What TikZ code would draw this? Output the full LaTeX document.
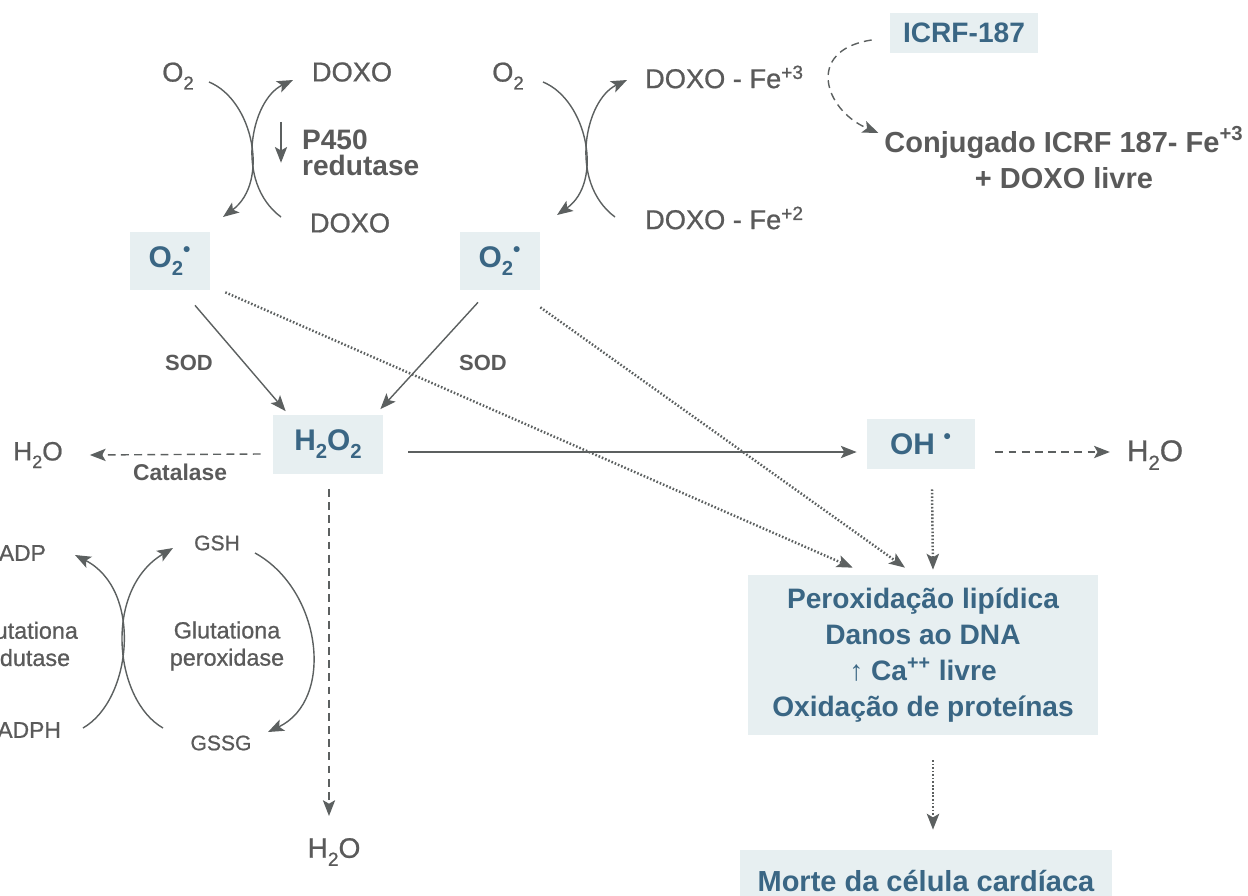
\documentclass[tikz,border=0pt]{standalone}
\usepackage{fontspec}
\setmainfont{Liberation Sans}
\newfontfamily\medfont[FakeBold=0.8]{Liberation Sans}
\usetikzlibrary{arrows.meta}

\definecolor{inkgray}{RGB}{90,90,90}
\definecolor{inkblue}{RGB}{58,102,132}
\definecolor{tint}{RGB}{231,239,241}
\definecolor{linegray}{RGB}{92,96,96}

\newcommand{\fsz}[2]{\fontsize{#1}{#2}\selectfont}
\newcommand{\low}[1]{\raisebox{-0.55ex}{\scalebox{0.68}{#1}}}
\newcommand{\rad}{\textsuperscript{\textbullet}}

\tikzset{
  lbl/.style={text=inkgray, inner sep=1pt},
  hot/.style={fill=tint, text=inkblue, font=\bfseries\fsz{17}{20}, inner sep=0pt},
  arr/.style={draw=linegray, line width=0.8pt, -{Stealth[length=9pt,width=7pt,inset=2pt]}},
  dasharr/.style={arr, dash pattern=on 4.5pt off 3pt},
  dotarr/.style={arr, line width=1.4pt, dash pattern=on 0.9pt off 1.1pt},
}

\begin{document}
\begin{tikzpicture}[x=0.02cm,y=-0.02cm]
\useasboundingbox (0,0) rectangle (1248,896);
\clip (0,0) rectangle (1248,896);

% first redox cycle
\node[lbl, font=\medfont\fsz{15.5}{18}] (o2a) at (178,76) {O\low{2}};
\node[lbl, font=\medfont\fsz{15.5}{18}] (doxoA) at (352,72) {DOXO};
\node[lbl, font=\medfont\fsz{15.5}{18}] (doxoB) at (350,223) {DOXO};
\node[lbl, font=\bfseries\fsz{16}{15}, align=left, anchor=west] (p450) at (300,153) {P450\\redutase};
\draw[arr] ([shift={(-19,-6)}]p450.north west) -- ++(0,41);
\node[hot, minimum width=1.6cm, minimum height=1.16cm] (o2rA) at (170,261) {O\low{2}\rad};

\coordinate (cA1) at (209,82);
\coordinate (cA2) at (223,217);
\coordinate (cA3) at (281,217);
\coordinate (cA4) at (293,80);
\draw[arr] (cA1) .. controls (253,100) and (270,182) .. (cA2);
\draw[arr] (cA3) .. controls (234,182) and (251,100) .. (cA4);

% second redox cycle (iron)
\node[lbl, font=\medfont\fsz{15.5}{18}] (o2b) at (508,76) {O\low{2}};
\node[lbl, font=\medfont\fsz{15.5}{18}, anchor=west] (doxoFe3) at (643,77) {DOXO - Fe\textsuperscript{+3}};
\node[lbl, font=\medfont\fsz{15.5}{18}, anchor=west] (doxoFe2) at (643,218) {DOXO - Fe\textsuperscript{+2}};
\node[hot, minimum width=1.6cm, minimum height=1.16cm] (o2rB) at (500,261) {O\low{2}\rad};

\coordinate (cB1) at (543,82);
\coordinate (cB2) at (557,215);
\coordinate (cB3) at (615,217);
\coordinate (cB4) at (627,80);
\draw[arr] (cB1) .. controls (587,100) and (604,182) .. (cB2);
\draw[arr] (cB3) .. controls (568,182) and (585,100) .. (cB4);

% ICRF-187 chelation
\node[hot, minimum width=2.96cm, minimum height=0.8cm, font=\bfseries\fsz{16}{19}] (icrf) at (964,33) {ICRF-187};
\node[lbl, font=\bfseries\fsz{16.5}{21}, align=center] (conj) at (1064,158) {Conjugado ICRF 187- Fe\textsuperscript{+3}\\+ DOXO livre};
\draw[dasharr] ([shift={(-18,7)}]icrf.west) .. controls (805,50) and (824,110) .. ([shift={(-4,-25)}]conj.west);

% dismutation
\node[lbl, font=\bfseries\fsz{12.5}{15}] (sodA) at (189,363) {SOD};
\node[lbl, font=\bfseries\fsz{12.5}{15}] (sodB) at (483,363) {SOD};
\node[hot, minimum width=2.2cm, minimum height=1.18cm] (h2o2) at (328,444) {H\low{2}O\low{2}};
\draw[arr] ([shift={(25,15)}]o2rA.south) -- ([shift={(13,-3)}]h2o2.north west);
\draw[arr] ([shift={(-22,12)}]o2rB.south) -- ([shift={(-3,-5)}]h2o2.north east);

% hydroxyl radical
\node[hot, minimum width=2.16cm, minimum height=1cm] (oh) at (921,444) {OH\hspace{5pt}\rad};
\node[lbl, font=\medfont\fsz{17}{20}] (h2oR) at (1155,455) {H\low{2}O};
\draw[arr] ([shift={(25,8)}]h2o2.east) -- ([shift={(-10,8)}]oh.west);
\draw[dasharr] ([shift={(20,8)}]oh.east) -- ([shift={(-15,-3)}]h2oR.west);

% catalase
\node[lbl, font=\medfont\fsz{15}{18}] (h2oL) at (38,455) {H\low{2}O};
\node[lbl, font=\bfseries\fsz{13}{15}] (catal) at (180,472) {Catalase};
\draw[dasharr] ([shift={(-12,10)}]h2o2.west) -- ([shift={(25,0)}]h2oL.east);

% glutathione
\node[lbl, font=\medfont\fsz{16}{19}] (h2oB) at (334,852) {H\low{2}O};
\draw[dasharr] ([shift={(1,15)}]h2o2.south) -- ([shift={(-5,-20)}]h2oB.north);

\node[lbl, font=\medfont\fsz{12}{14}] (gsh) at (217,543) {GSH};
\node[lbl, font=\medfont\fsz{12}{14}] (gssg) at (221,743) {GSSG};
\node[lbl, font=\medfont\fsz{13.3}{15.5}, align=center] (gpx) at (227,646) {Glutationa\\peroxidase};
\node[lbl, font=\medfont\fsz{13.3}{15.5}, align=center, anchor=east] (gred) at (80,644) {Glutationa\\redutase};
\node[lbl, font=\medfont\fsz{13}{15}, anchor=east] (nadp) at (48,553) {NADP};
\node[lbl, font=\medfont\fsz{13}{15}, anchor=east] (nadph) at (63,730) {NADPH};

\coordinate (cG1) at (83,728);
\coordinate (cG2) at (75,555);
\coordinate (cG3) at (163,728);
\coordinate (cG4) at (173,548);
\coordinate (cG5) at (255,553);
\coordinate (cG6) at (268,732);
\draw[arr] (cG1) .. controls (132,700) and (143,590) .. (cG2);
\draw[arr] (cG3) .. controls (114,700) and (103,590) .. (cG4);
\draw[arr] (cG5) .. controls (322,590) and (335,700) .. (cG6);

% cell damage
\node[hot, minimum width=7cm, minimum height=3.2cm, align=center, font=\bfseries\fsz{16}{20.5}] (box1) at (923,655) {Peroxidação lipídica\\Danos ao DNA\\↑ Ca\textsuperscript{++} livre\\Oxidação de proteínas};
\node[hot, minimum width=7.44cm, minimum height=1.24cm, font=\bfseries\fsz{16.5}{20}] (box2) at (926,881) {Morte da célula cardíaca};

\draw[dotarr] ([shift={(15,2)}]o2rA.south east) -- ([shift={(105,-7)}]box1.north west);
\draw[dotarr] ([shift={(0,17)}]o2rB.south east) -- ([shift={(-18,-7)}]box1.north);
\draw[dotarr] ([shift={(11,20)}]oh.south) -- ([shift={(10,-5)}]box1.north);
\draw[dotarr] ([shift={(10,25)}]box1.south) -- ([shift={(7,-20)}]box2.north);

\end{tikzpicture}
\end{document}
